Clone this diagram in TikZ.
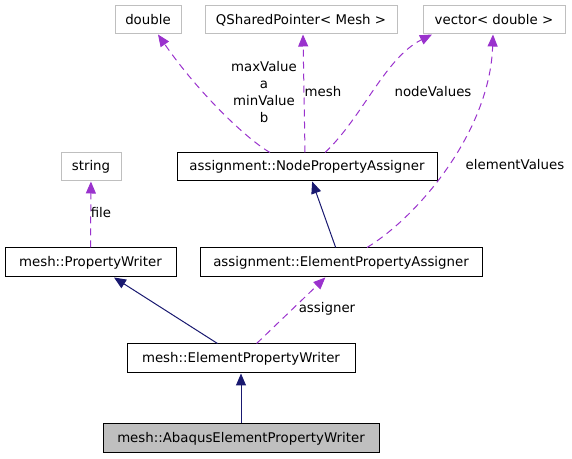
\documentclass[tikz,border=0pt]{standalone}
\usepackage{fontspec}
\setmainfont{DejaVu Sans}
\usetikzlibrary{arrows.meta,calc}
\definecolor{inh}{HTML}{191970}
\definecolor{usg}{HTML}{9A32CD}
\definecolor{ext}{HTML}{BFBFBF}
\begin{document}
\begin{tikzpicture}[x=0.75pt,y=-0.75pt,
  font=\fontsize{10pt}{12.75pt}\selectfont,
  box/.style={draw=black,line width=0.75pt,inner sep=0pt,minimum height=21.75pt},
  extbox/.style={draw=ext,line width=0.75pt,inner sep=0pt,minimum height=21pt},
  inhedge/.style={draw=inh,line width=0.75pt,-{Triangle[length=9pt,width=7.5pt,fill=inh]}},
  usedge/.style={draw=usg,line width=0.75pt,dash pattern=on 5.25pt off 3.75pt,-{Triangle[length=9pt,width=7.5pt,fill=usg]}},
  lbl/.style={inner sep=0pt,align=center,text=black}]
\useasboundingbox (0,0) rectangle (572,459);
% external types
\node[extbox,minimum width=49.5pt] (dbl) at (148,20) {double};
\node[extbox,minimum width=144pt] (qsp) at (301,20) {QSharedPointer< Mesh >};
\node[extbox,minimum width=106.5pt] (vec) at (494,20) {vector< double >};
\node[extbox,minimum width=45pt] (str) at (91,167) {string};
% classes
\node[box,minimum width=195pt,minimum height=21pt] (npa) at (307,167) {assignment::NodePropertyAssigner};
\node[box,minimum width=128.25pt] (pw) at (90.5,262.5) {mesh::PropertyWriter};
\node[box,minimum width=211.5pt] (epa) at (341,262.5) {assignment::ElementPropertyAssigner};
\node[box,minimum width=171pt] (epw) at (241,358.5) {mesh::ElementPropertyWriter};
\node[box,minimum width=207pt,fill=ext] (abq) at (241,438.5) {mesh::AbaqusElementPropertyWriter};
% inheritance
\draw[inhedge] (abq) -- (epw);
\draw[inhedge] (epw) -- (pw);
\draw[inhedge] (epa) -- (npa);
% usage
\draw[usedge] (epw) -- (epa);
\draw[usedge] (pw) -- (str);
\draw[usedge] ($(npa.north)+(-2,0)$) -- ($(qsp.south)+(2,0)$);
\draw[usedge] ($(npa.north)+(-37,0)$) .. controls (248,140) and (200,95) .. ($(dbl.south)+(10,0)$);
\draw[usedge] ($(npa.north)+(18,0)$) .. controls (362,118) and (385,58) .. ($(vec.south)+(-62,0)$);
\draw[usedge] ($(epa.north)+(26,0)$) .. controls (420,215) and (490,130) .. ($(vec.south)+(-1,0)$);
% labels
\node[lbl] (l1) at (264,92) {maxValue\\a\\minValue\\b};
\node[lbl] (l2) at (323,92) {mesh};
\node[lbl] (l3) at (433,92) {nodeValues};
\node[lbl] (l4) at (515,165) {elementValues};
\node[lbl] (l5) at (327,309) {assigner};
\node[lbl] (l6) at (101,213) {file};
\end{tikzpicture}
\end{document}
